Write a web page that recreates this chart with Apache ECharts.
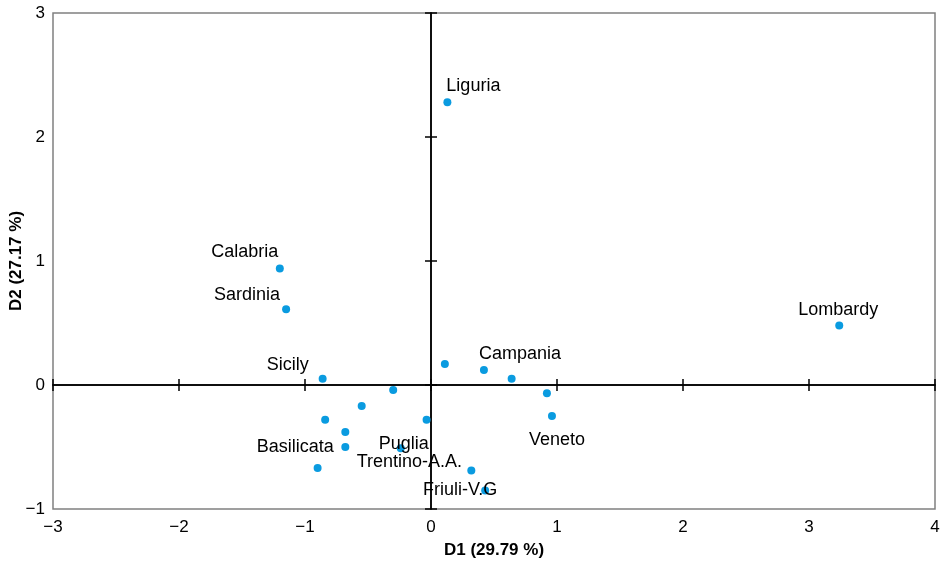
<!DOCTYPE html>
<html>
<head>
<meta charset="utf-8">
<script src="https://cdn.jsdelivr.net/npm/echarts@6/dist/echarts.min.js"></script>
<style>html,body{margin:0;padding:0;background:#fff;}#c{width:943px;height:565px;}</style>
</head>
<body>
<div id="c"></div>
<script>
// Data
const regions = ['Liguria','Calabria','Sardinia','Lombardy','Sicily','','Campania','','','Veneto','','','','','','Basilicata','','Puglia','Trentino-A.A.','Friuli-V.G'];
const d1 = [0.13,-1.20,-1.15,3.24,-0.86,0.11,0.42,0.64,0.92,0.96,-0.30,-0.55,-0.035,-0.84,-0.68,-0.68,-0.90,-0.24,0.32,0.43];
const d2 = [2.28,0.94,0.61,0.48,0.05,0.17,0.12,0.05,-0.067,-0.25,-0.04,-0.17,-0.28,-0.28,-0.38,-0.50,-0.67,-0.51,-0.69,-0.85];
const xTicks = [-3,-2,-1,0,1,2,3,4];
const yTicks = [-1,0,1,2,3];

// label placement (style, px offsets from point centre)
const labelOffsets = {
  'Liguria':[26,-16],'Calabria':[-35,-16],'Sardinia':[-39,-14],'Lombardy':[-1,-15],
  'Sicily':[-35,-14],'Campania':[36,-16],'Veneto':[5,24],'Basilicata':[-50,0],
  'Puglia':[3,-4],'Trentino-A.A.':[-62,-9],'Friuli-V.G':[-25,0]
};

const FONT = 'Liberation Sans, Arial, sans-serif';
const minus = v => String(v).replace('-', '\u2212');

const points = d1.map((x, i) => {
  const n = regions[i];
  const p = { value: [x, d2[i]], name: n };
  if (n) {
    p.label = { show: true, formatter: n, position: 'inside', offset: labelOffsets[n],
      align: 'center', verticalAlign: 'middle', color: '#000', fontSize: 18, fontFamily: FONT,
      textBorderWidth: 0, textBorderColor: 'transparent' };
  }
  return p;
});

const xMin = xTicks[0], xMax = xTicks[xTicks.length-1];
const yMin = yTicks[0], yMax = yTicks[yTicks.length-1];

const zeroX = (inside) => ({
  type: 'value', min: xMin, max: xMax, interval: 1, position: 'bottom',
  axisLine: { show: true, onZero: true, onZeroAxisIndex: 0, lineStyle: { color: '#000', width: 1.5 } },
  axisTick: { show: true, inside: inside, length: 6, lineStyle: { color: '#000', width: 1.5 } },
  axisLabel: { show: false }, splitLine: { show: false }
});
const zeroY = (inside) => ({
  type: 'value', min: yMin, max: yMax, interval: 1, position: 'left',
  axisLine: { show: true, onZero: true, onZeroAxisIndex: 0, lineStyle: { color: '#000', width: 1.5 } },
  axisTick: { show: true, inside: inside, length: 6, lineStyle: { color: '#000', width: 1.5 } },
  axisLabel: { show: false }, splitLine: { show: false }
});

const chart = echarts.init(document.getElementById('c'), null, { renderer: 'canvas' });
chart.setOption({
  animation: false,
  backgroundColor: '#fff',
  grid: { left: 53, right: 8, top: 13, bottom: 56, show: true, borderColor: '#808080', borderWidth: 1.5,
    containLabel: false, outerBoundsMode: 'none' },
  xAxis: [
    { type: 'value', min: xMin, max: xMax, interval: 1, position: 'bottom',
      name: 'D1 (29.79 %)', nameLocation: 'middle', nameGap: 33, nameMoveOverlap: false,
      nameTextStyle: { fontFamily: FONT, fontWeight: 'bold', fontSize: 17, color: '#000' },
      axisLine: { show: false, onZero: false }, axisTick: { show: false },
      axisLabel: { fontFamily: FONT, fontSize: 17, color: '#000', margin: 10, formatter: minus },
      splitLine: { show: false } },
    zeroX(false), zeroX(true)
  ],
  yAxis: [
    { type: 'value', min: yMin, max: yMax, interval: 1, position: 'left',
      name: 'D2 (27.17 %)', nameLocation: 'middle', nameGap: 28, nameRotate: 90, nameMoveOverlap: false,
      nameTextStyle: { fontFamily: FONT, fontWeight: 'bold', fontSize: 17, color: '#000' },
      axisLine: { show: false, onZero: false }, axisTick: { show: false },
      axisLabel: { fontFamily: FONT, fontSize: 17, color: '#000', margin: 8, formatter: minus },
      splitLine: { show: false } },
    zeroY(false), zeroY(true)
  ],
  series: [{
    type: 'scatter', xAxisIndex: 0, yAxisIndex: 0,
    symbolSize: 8, itemStyle: { color: '#0a9be0', opacity: 1 },
    label: { show: false },
    data: points, z: 3
  }]
});
</script>
</body>
</html>
